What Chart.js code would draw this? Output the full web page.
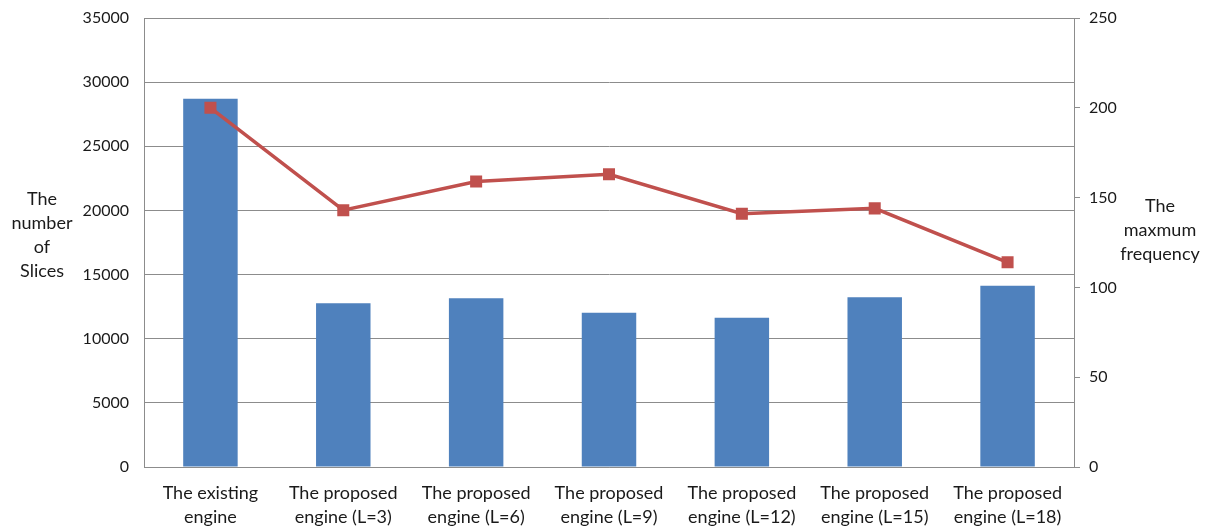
<!DOCTYPE html>
<html>
<head>
<meta charset="utf-8">
<script src="https://cdn.jsdelivr.net/npm/chart.js@4/dist/chart.umd.min.js"></script>
<style>
    html, body { margin: 0; padding: 0; background: #fff; }
    #wrap { width: 1208px; height: 528px; position: relative; }
</style>
</head>
<body>
<div id="wrap"><canvas id="myChart"></canvas></div>
<script>
// --- Data ---
const categories = [
    ["The existing", "engine"],
    ["The proposed", "engine (L=3)"],
    ["The proposed", "engine (L=6)"],
    ["The proposed", "engine (L=9)"],
    ["The proposed", "engine (L=12)"],
    ["The proposed", "engine (L=15)"],
    ["The proposed", "engine (L=18)"]
];
const sliceCounts = [28700, 12770, 13150, 12020, 11640, 13230, 14130];
const maxFrequency = [200, 143, 159, 163, 141, 144, 114];
const leftTitle = ["The", "number", "of", "Slices"];
const rightTitle = ["The", "maxmum", "frequency"];

const FONT = "Lato, 'Open Sans', sans-serif";
const TEXT = "#1a1a1a";
const AXIS = "#8c8c8c";

// draws the two horizontal multi-line axis titles
const sideTitles = {
    id: "sideTitles",
    afterDraw(chart) {
        const ctx = chart.ctx;
        ctx.save();
        ctx.font = "18px " + FONT;
        ctx.fillStyle = TEXT;
        ctx.textAlign = "center";
        ctx.textBaseline = "middle";
        leftTitle.forEach((t, i) => ctx.fillText(t, 42, 199 + i * 24));
        rightTitle.forEach((t, i) => ctx.fillText(t, 1160, 206 + i * 24));
        ctx.restore();
    }
};

// fixed axis box, no extra label padding above/below
function fixWidth(w) {
    return (s) => {
        s.width = w;
        s.paddingTop = 0;
        s.paddingBottom = 0;
    };
}

const ctx = document.getElementById("myChart").getContext("2d");
new Chart(ctx, {
    data: {
        labels: categories,
        datasets: [
            {
                type: "line",
                label: "Maximum frequency",
                data: maxFrequency,
                yAxisID: "y1",
                borderColor: "#C0504D",
                backgroundColor: "#C0504D",
                borderWidth: 3.5,
                pointStyle: "rect",
                pointRadius: 8.5,
                pointBorderWidth: 0,
                tension: 0,
                order: 0
            },
            {
                type: "bar",
                label: "Slices",
                data: sliceCounts,
                yAxisID: "y",
                backgroundColor: "#4F81BD",
                categoryPercentage: 1,
                barPercentage: 0.41,
                order: 1
            }
        ]
    },
    options: {
        responsive: true,
        maintainAspectRatio: false,
        animation: false,
        layout: { padding: { top: 18, left: 0, right: 0, bottom: 0 } },
        plugins: {
            legend: { display: false },
            tooltip: { enabled: false }
        },
        scales: {
            x: {
                grid: { display: false, drawTicks: false },
                border: { display: true, color: AXIS },
                ticks: {
                    color: TEXT,
                    font: { family: FONT, size: 18, lineHeight: 1.35 },
                    padding: 14,
                    maxRotation: 0,
                    autoSkip: false
                },
                afterFit: (s) => { s.height = 61; }
            },
            y: {
                position: "left",
                min: 0,
                max: 35000,
                ticks: {
                    stepSize: 5000,
                    color: TEXT,
                    font: { family: FONT, size: 16 },
                    padding: 15,
                    callback: (v) => String(v)
                },
                grid: { color: AXIS, drawTicks: false },
                border: { display: true, color: AXIS },
                afterFit: fixWidth(144)
            },
            y1: {
                position: "right",
                min: 0,
                max: 250,
                ticks: {
                    stepSize: 50,
                    color: TEXT,
                    font: { family: FONT, size: 16 },
                    padding: 9,
                    callback: (v) => String(v)
                },
                grid: { drawOnChartArea: false, drawTicks: true, tickLength: 6, color: AXIS },
                border: { display: true, color: AXIS },
                afterFit: fixWidth(134)
            }
        }
    },
    plugins: [sideTitles]
});
</script>
</body>
</html>
